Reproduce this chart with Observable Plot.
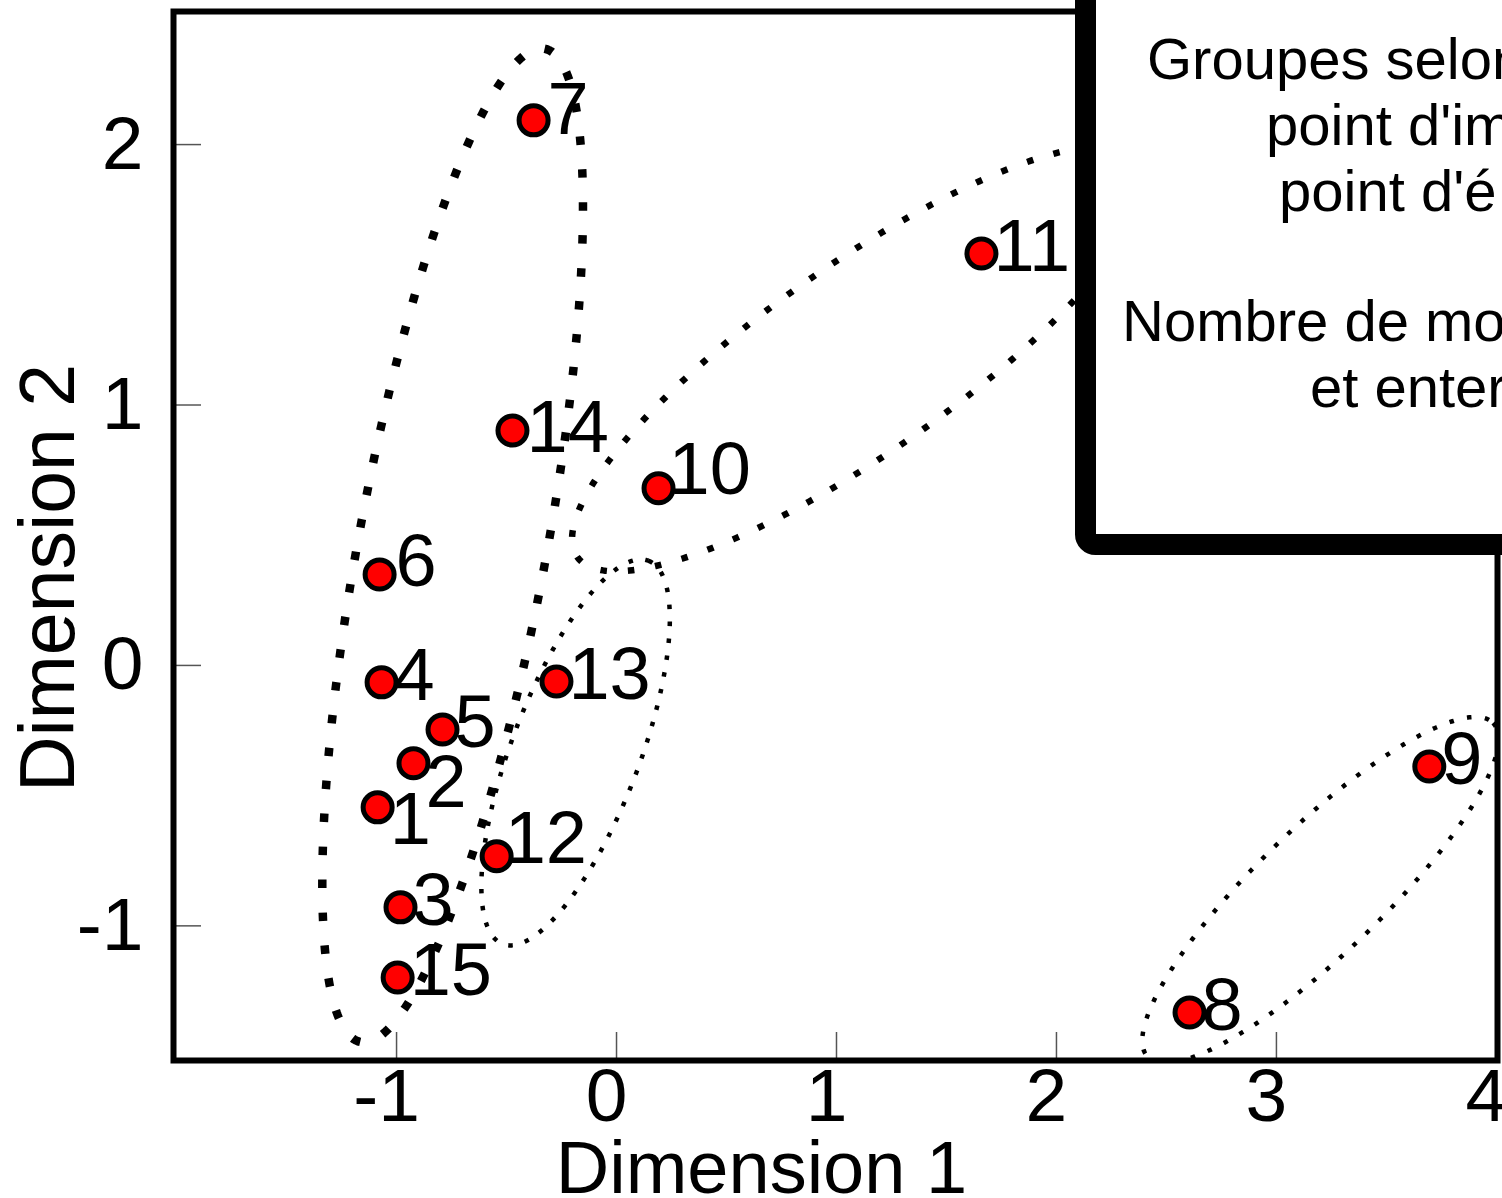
<!DOCTYPE html>
<html><head><meta charset="utf-8">
<script src="https://cdn.jsdelivr.net/npm/d3@7"></script>
<script src="https://cdn.jsdelivr.net/npm/@observablehq/plot@0.6"></script>
<style>
html,body{margin:0;padding:0;background:#fff;overflow:hidden;}
#wrap{position:relative;width:1502px;height:1198px;overflow:hidden;background:#fff;}
#wrap svg{display:block;}
#legend{position:absolute;left:0;top:0;}
</style></head><body><div id="wrap"></div>
<script>
// ---- data ----
const ids  = [1, 2, 3, 4, 5, 6, 7, 8, 9, 10, 11, 12, 13, 14, 15];
const dim1 = [-1.086, -0.923, -0.982, -1.068, -0.791, -1.077, -0.377, 2.605, 3.695, 0.191, 1.659, -0.545, -0.273, -0.473, -0.995];
const dim2 = [-0.545, -0.376, -0.929, -0.065, -0.246, 0.349, 2.093, -1.333, -0.388, 0.680, 1.582, -0.733, -0.062, 0.902, -1.198];

const xTicks = [-1, 0, 1, 2, 3, 4];
const yTicks = [-1, 0, 1, 2];

// group ellipses: centre and conjugate half-axes, in data units
const ellipseNames = ["groupe A", "groupe B", "groupe C", "groupe D"];
const ellipseCx = [-0.745, 1.109, -0.186, 3.200];
const ellipseCy = [0.461, 1.179, -0.334, -0.862];
const ellipseUx = [0.418, 1.288, 0.331, 0.785];
const ellipseUy = [1.907, 0.762, 0.736, 0.641];
const ellipseVx = [0.420, 0.245, 0.272, 0.199];
const ellipseVy = [-0.066, -0.296, -0.087, -0.174];

const legendLines = ["Groupes selon", "point d'im", "point d'é", "", "Nombre de mo", "et enter"];

// ---- styles / layout ----
const ellipseWidth = [8.5, 6.5, 4.5, 4.5];
const ellipseDash = ["8.5,24.5", "6.5,21", "4.5,12.5", "4.5,13.5"];
const labelNudge = {1: [12, 13], 2: [12, 20], 6: [16, -12], 7: [14, -10], 10: [10, -18], 12: [8, -17], 14: [14, -2]};
const FONT = "'Liberation Sans', Arial, Helvetica, sans-serif";

const points = ids.map((id, i) => ({id, x: dim1[i], y: dim2[i]}));

function ellipsePath(k) {
  const n = 360, out = [];
  for (let j = 0; j <= n; j++) {
    const t = (j / n) * 2 * Math.PI;
    out.push({
      x: ellipseCx[k] + Math.cos(t) * ellipseUx[k] + Math.sin(t) * ellipseVx[k],
      y: ellipseCy[k] + Math.cos(t) * ellipseUy[k] + Math.sin(t) * ellipseVy[k]
    });
  }
  return out;
}

const ellipseMarks = ellipseNames.map((name, k) =>
  Plot.line(ellipsePath(k), {x: "x", y: "y", stroke: "black", strokeWidth: ellipseWidth[k],
    strokeDasharray: ellipseDash[k], strokeLinecap: "butt", clip: "frame"}));

const labelMarks = points.map(p => {
  const [dx, dy] = labelNudge[p.id] || [12, -6];
  return Plot.text([p], {x: "x", y: "y", text: d => String(d.id), dx, dy, textAnchor: "start",
    fontSize: 74, fill: "black"});
});

const chart = Plot.plot({
  width: 1502, height: 1198,
  marginTop: 11, marginBottom: 138, marginLeft: 173, marginRight: 5,
  x: {domain: [-2.014, 4.005]},
  y: {domain: [-1.517, 2.511]},
  style: {fontFamily: FONT, background: "white", color: "black", overflow: "hidden"},
  marks: [
    ...ellipseMarks,
    Plot.dot(points, {x: "x", y: "y", r: 14.5, fill: "#ff0000", stroke: "black", strokeWidth: 5}),
    ...labelMarks,
    // inward ticks
    Plot.axisX(xTicks, {anchor: "bottom", tickSize: -28, tickPadding: 35, fontSize: 75,
      stroke: "#555", strokeWidth: 1.5, fill: "black", tickFormat: () => "", label: null}),
    // tick labels
    Plot.axisX(xTicks, {anchor: "bottom", tickSize: 0, tickPadding: 7, fontSize: 75, dx: -10,
      fill: "black", tickFormat: d => String(d), label: null}),
    Plot.axisY(yTicks, {anchor: "left", tickSize: -28, tickPadding: 58, fontSize: 75,
      stroke: "#555", strokeWidth: 1.5, fill: "black", tickFormat: d => String(d), label: null}),
    Plot.frame({stroke: "black", strokeWidth: 6}),
    Plot.text(["Dimension 1"], {frameAnchor: "bottom", text: d => d, dx: -74, dy: 109,
      fontSize: 74, lineAnchor: "middle", textAnchor: "middle", fill: "black"}),
    Plot.text(["Dimension 2"], {frameAnchor: "left", text: d => d, rotate: -90, dx: -124, dy: 42,
      fontSize: 77, lineAnchor: "middle", textAnchor: "middle", fill: "black"})
  ]
});

const wrap = document.getElementById("wrap");
wrap.appendChild(chart);

// legend box (partly outside the picture, as in the reference)
const leg = d3.select(wrap).append("svg").attr("id", "legend")
  .attr("width", 1502).attr("height", 1198);
leg.append("rect").attr("x", 1085.5).attr("y", -40).attr("width", 600).attr("height", 584.5)
  .attr("rx", 10).attr("fill", "white").attr("stroke", "black").attr("stroke-width", 21);
const lx = [1147, 1266, 1279, 0, 1122, 1310];
const ly = [79, 145, 211, 277, 341, 407];
legendLines.forEach((t, i) => {
  if (!t) return;
  leg.append("text").attr("x", lx[i]).attr("y", ly[i]).attr("font-family", FONT)
    .attr("font-size", 58).attr("fill", "black").text(t);
});
</script></body></html>
